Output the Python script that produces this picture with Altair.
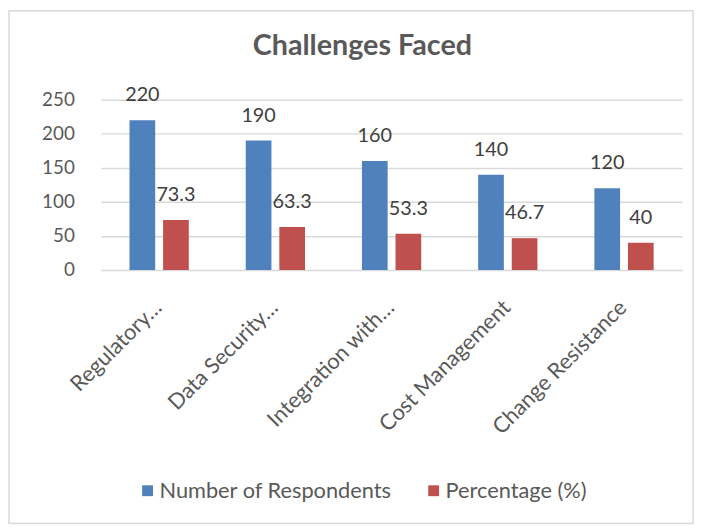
import altair as alt
import pandas as pd

categories = ["Regulatory…", "Data Security…", "Integration with…", "Cost Management", "Change Resistance"]
respondents = [220, 190, 160, 140, 120]
percentage = [73.3, 63.3, 53.3, 46.7, 40]
series = ["Number of Respondents", "Percentage (%)"]
colors = ["#4F81BD", "#C0504D"]
y_ticks = [0, 50, 100, 150, 200, 250]
title_text = "Challenges Faced"

rows = []
for c, r, p in zip(categories, respondents, percentage):
    rows.append({"Challenge": c, "Series": series[0], "Value": r, "Label": f"{r:g}"})
    rows.append({"Challenge": c, "Series": series[1], "Value": p, "Label": f"{p:g}"})
df = pd.DataFrame(rows)

FONT = "Lato"
GREY = "#595959"

x_axis = alt.Axis(title=None, labelAngle=-45, labelAlign="right", labelBaseline="middle",
                  labelFontSize=22, labelColor=GREY, labelFont=FONT, labelOffset=-1,
                  domain=False, ticks=False, labelPadding=34, labelLimit=300)
y_axis = alt.Axis(title=None, values=y_ticks, domain=False, ticks=False,
                  labelOverlap=False, labelFontSize=19, labelColor=GREY, labelFont=FONT,
                  labelPadding=27, gridColor="#d9d9d9", gridWidth=1.5)
x_scale = alt.Scale(paddingInner=0.49, paddingOuter=0.245)
xo_scale = alt.Scale(paddingInner=0.235, paddingOuter=0)
y_scale = alt.Scale(domain=[0, 250], nice=False, zero=True)

x_enc = alt.X("Challenge:N", sort=categories, scale=x_scale, axis=x_axis)
xo_enc = alt.XOffset("Series:N", sort=series, scale=xo_scale)
y_enc = alt.Y("Value:Q", scale=y_scale, axis=y_axis)

base = alt.Chart(df)
bars = base.mark_bar().encode(
    x=x_enc, xOffset=xo_enc, y=y_enc,
    color=alt.Color("Series:N", sort=series, scale=alt.Scale(domain=series, range=colors),
                    legend=alt.Legend(title=None, orient="none", legendX=36, legendY=384,
                                      direction="horizontal", symbolType="square", symbolSize=120,
                                      symbolStrokeWidth=0, labelFontSize=22, labelColor=GREY,
                                      labelFont=FONT, columnPadding=31, labelOffset=1,
                                      labelLimit=400)),
)
texts = base.mark_text(baseline="bottom", dy=-15, fontSize=20, font=FONT, color="#404040").encode(
    x=x_enc, xOffset=xo_enc, y=y_enc, text="Label:N",
)
frame = alt.Chart(pd.DataFrame({"t": [title_text]}))
border = frame.mark_rect(fill=None, stroke="#d9d9d9", strokeWidth=1.5).encode(
    x=alt.value(-93), x2=alt.value(598), y=alt.value(-90), y2=alt.value(428),
)
title = frame.mark_text(fontSize=29, font=FONT, fontWeight="bold", color=GREY,
                        baseline="middle", align="center").encode(
    x=alt.value(264), y=alt.value(-54), text="t:N",
)

chart = alt.layer(border, title, bars, texts).properties(
    width=587, height=172,
    autosize=alt.AutoSizeParams(type="none"),
    padding={"left": 94, "top": 90, "right": 12, "bottom": 260},
).configure_view(strokeWidth=0)

chart.save("out.html", embed_options={"renderer": "svg", "actions": False})
